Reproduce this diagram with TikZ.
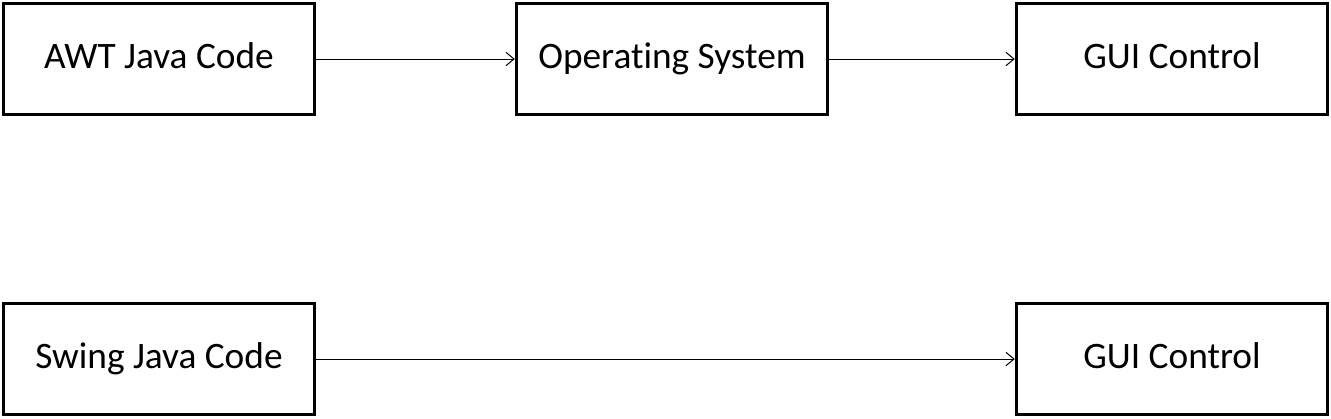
\documentclass[tikz,border=0pt]{standalone}
\usepackage{fontspec}
\setmainfont[Ligatures={NoCommon}]{Carlito}
\usetikzlibrary{arrows.meta}
\begin{document}
\begin{tikzpicture}[x=0.75pt,y=-0.75pt,
  blk/.style={draw,line width=2.25pt,minimum width=311.5*0.75pt,minimum height=110.5*0.75pt,inner sep=0pt,text height=19pt,text depth=5pt,font=\fontsize{28}{32}\selectfont},
  conn/.style={line width=0.75pt,-{Straight Barb[length=6pt,width=10pt]}}]
\useasboundingbox (0,0) rectangle (1331,418);
\node[blk] (awt) at (159,59) {AWT Java Code};
\node[blk] (os) at (672,59) {Operating System};
\node[blk] (gui1) at (1172,59) {GUI Control};
\node[blk] (swing) at (159,359) {Swing Java Code};
\node[blk] (gui2) at (1172,359) {GUI Control};
\draw[conn] (awt) -- (os);
\draw[conn] (os) -- (gui1);
\draw[conn] (swing) -- (gui2);
\end{tikzpicture}
\end{document}
